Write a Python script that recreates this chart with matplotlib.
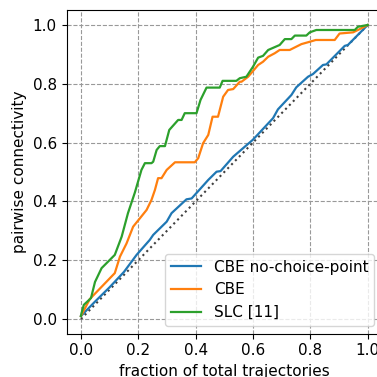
import numpy as np
import matplotlib
matplotlib.use('Agg')
import matplotlib.pyplot as plt

plt.rcParams['font.size'] = 11

#Curves
blue_x = [0.0, 0.05, 0.1, 0.15, 0.194, 0.24, 0.252, 0.299, 0.316, 0.368, 0.386, 0.444, 0.473, 0.487,
          0.531, 0.6, 0.67, 0.687, 0.734, 0.751, 0.792, 0.809, 0.844, 0.856, 0.92, 0.931, 1.0]
blue_y = [0.01, 0.06, 0.108, 0.16, 0.218, 0.269, 0.286, 0.331, 0.36, 0.407, 0.41, 0.473, 0.501, 0.503,
          0.552, 0.61, 0.683, 0.713, 0.762, 0.788, 0.824, 0.833, 0.864, 0.866, 0.929, 0.932, 1.0]

orange_x = [0.0, 0.031, 0.118, 0.136, 0.159, 0.182, 0.206, 0.229, 0.246, 0.258,
            0.269, 0.281, 0.299, 0.328, 0.397, 0.409, 0.426, 0.444, 0.459, 0.478,
            0.496, 0.513, 0.531, 0.554, 0.56, 0.583, 0.618, 0.635, 0.653, 0.676,
            0.693, 0.728, 0.769, 0.78, 0.798, 0.819, 0.885, 0.902, 0.949, 0.966, 1.0]
orange_y = [0.01, 0.068, 0.156, 0.212, 0.257, 0.314, 0.343, 0.371, 0.405, 0.439,
            0.479, 0.479, 0.507, 0.533, 0.533, 0.547, 0.598, 0.626, 0.688, 0.688,
            0.756, 0.779, 0.782, 0.807, 0.807, 0.824, 0.864, 0.875, 0.892, 0.904,
            0.915, 0.915, 0.935, 0.938, 0.943, 0.949, 0.949, 0.971, 0.975, 0.983, 1.0]

green_x = [0.0, 0.002, 0.01, 0.035, 0.049, 0.072, 0.118, 0.142, 0.164, 0.188,
           0.211, 0.223, 0.246, 0.252, 0.264, 0.275, 0.293, 0.308, 0.339, 0.351,
           0.362, 0.403, 0.417, 0.438, 0.484, 0.494, 0.542, 0.554, 0.577, 0.60,
           0.618, 0.635, 0.653, 0.693, 0.711, 0.734, 0.746, 0.786, 0.798, 0.821,
           0.955, 0.966, 1.0]
green_y = [0.01, 0.02, 0.048, 0.071, 0.126, 0.173, 0.218, 0.28, 0.36, 0.43,
           0.507, 0.53, 0.53, 0.535, 0.575, 0.588, 0.588, 0.643, 0.677, 0.677,
           0.70, 0.70, 0.745, 0.787, 0.787, 0.81, 0.81, 0.819, 0.824, 0.858,
           0.889, 0.895, 0.915, 0.932, 0.952, 0.952, 0.964, 0.964, 0.975, 0.983,
           0.983, 0.994, 1.0]

labels = ['CBE no-choice-point', 'CBE', 'SLC [11]']

fig = plt.figure(figsize=(3.77, 3.77), dpi=100)
#Axes runs past the right edge, as in the reference
ax = fig.add_axes([0.1767, 0.1149, 0.8366, 0.8578])

ax.plot([0, 1], [0, 1], color='0.25', linestyle=':', linewidth=1.5, zorder=2)
ax.plot(blue_x, blue_y, color='tab:blue', linewidth=1.6, label=labels[0], zorder=3)
ax.plot(orange_x, orange_y, color='tab:orange', linewidth=1.6, label=labels[1], zorder=3)
ax.plot(green_x, green_y, color='tab:green', linewidth=1.6, label=labels[2], zorder=3)

ax.set_xlim(-0.05, 1.05)
ax.set_ylim(-0.05, 1.05)
ax.set_xticks(np.arange(0, 1.01, 0.2))
ax.set_yticks(np.arange(0, 1.01, 0.2))
ax.grid(True, linestyle='--', color='0.6', linewidth=0.8)
ax.set_axisbelow(True)

ax.set_xlabel('fraction of total trajectories')
ax.set_ylabel('pairwise connectivity')
ax.legend(loc='lower right')

fig.savefig('out.png', dpi=100)
